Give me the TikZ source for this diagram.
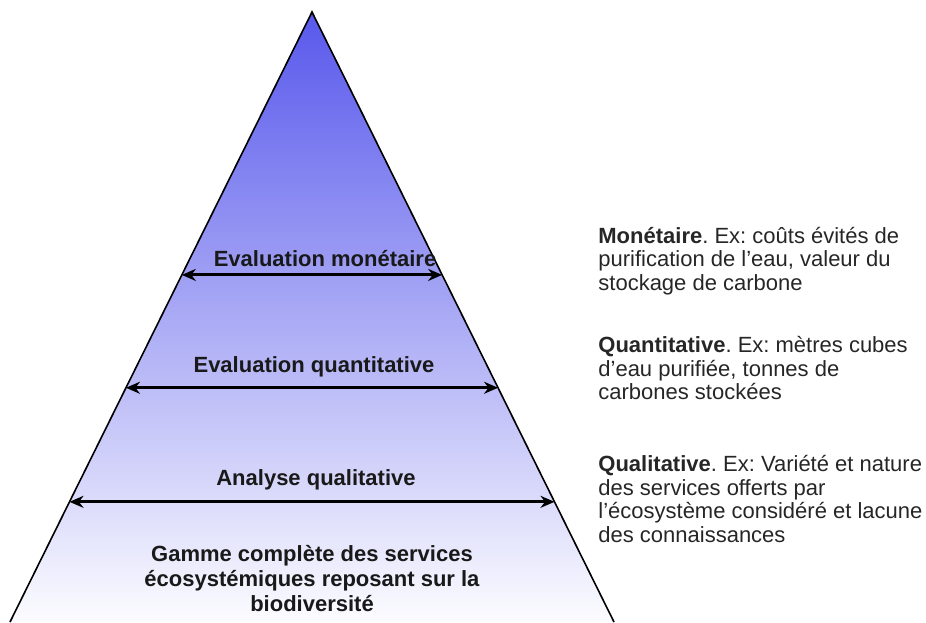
\documentclass[tikz,border=0pt]{standalone}
\usepackage{fontspec}
\setmainfont{Liberation Sans}
\usepackage{xcolor}
\usetikzlibrary{positioning,calc,arrows.meta}
\definecolor{pyrtop}{RGB}{88,88,236}
\definecolor{pyrbottom}{RGB}{252,252,255}
\frenchspacing
\begin{document}
\begin{tikzpicture}[x=0.5pt, y=-0.5pt,
  levelarrow/.style={{Stealth[length=7pt,width=6pt]}-{Stealth[length=7pt,width=6pt]}, line width=1.5pt},
  levellabel/.style={font=\bfseries\fontsize{11pt}{12.5pt}\selectfont, inner sep=0pt, align=center, text=black!90},
  sidenote/.style={anchor=west, align=left, inner sep=0pt, font=\fontsize{11pt}{11.9pt}\selectfont, text=black!85}]
\useasboundingbox (0,0) rectangle (926,622);

\coordinate (apex) at (312,12);
\coordinate (baseL) at (10,622);
\coordinate (baseR) at (614,622);
\shade[top color=pyrtop, bottom color=pyrbottom] (apex) -- (baseR) -- (baseL) -- cycle;
\draw[line width=0.8pt] (baseL) -- (apex) -- (baseR);

\coordinate (monL) at ($(apex)!0.431!(baseL)$);
\coordinate (monR) at ($(apex)!0.431!(baseR)$);
\coordinate (quantL) at ($(apex)!0.616!(baseL)$);
\coordinate (quantR) at ($(apex)!0.616!(baseR)$);
\coordinate (qualL) at ($(apex)!0.803!(baseL)$);
\coordinate (qualR) at ($(apex)!0.803!(baseR)$);
\draw[levelarrow] (monL) -- (monR);
\draw[levelarrow] (quantL) -- (quantR);
\draw[levelarrow] (qualL) -- (qualR);

\node[levellabel] at (325, 259) (monlabel) {Evaluation monétaire};
\node[levellabel] at (314, 367) (quantlabel) {Evaluation quantitative};
\node[levellabel] at (316, 480) (quallabel) {Analyse qualitative};
\node[levellabel] at (312, 579) (baselabel) {Gamme complète des services\\écosystémiques reposant sur la\\biodiversité};

\node[sidenote] at (598, 261) (monnote) {\textbf{Monétaire}. Ex: coûts évités de\\purification de l'eau, valeur du\\stockage de carbone};
\node[sidenote] at (598, 368) (quantnote) {\textbf{Quantitative}. Ex: mètres cubes\\d'eau purifiée, tonnes de\\carbones stockées};
\node[sidenote] at (598, 499) (qualnote) {\textbf{Qualitative}. Ex: Variété et nature\\des services offerts par\\l'écosystème considéré et lacune\\des connaissances};

\end{tikzpicture}
\end{document}
